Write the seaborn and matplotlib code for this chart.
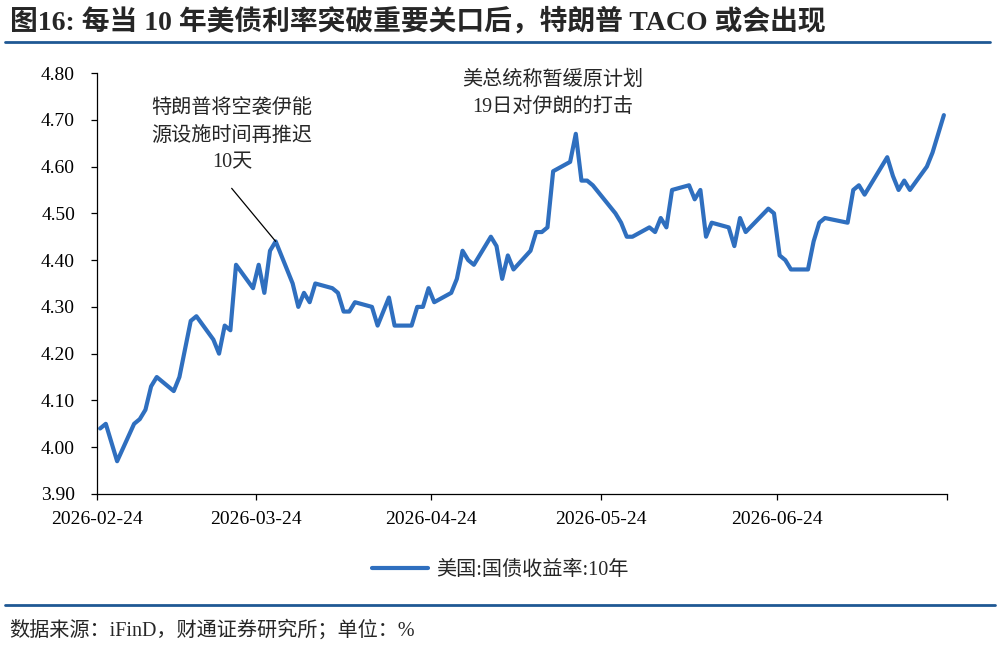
import pandas as pd
import seaborn as sns
import matplotlib.pyplot as plt
from matplotlib.lines import Line2D

# 10y US treasury yield, daily closes (%)
dates = [
    "2026-02-24", "2026-02-25", "2026-02-26", "2026-02-27",
    "2026-03-02", "2026-03-03", "2026-03-04", "2026-03-05", "2026-03-06",
    "2026-03-09", "2026-03-10", "2026-03-11", "2026-03-12", "2026-03-13",
    "2026-03-16", "2026-03-17", "2026-03-18", "2026-03-19", "2026-03-20",
    "2026-03-23", "2026-03-24", "2026-03-25", "2026-03-26", "2026-03-27",
    "2026-03-30", "2026-03-31", "2026-04-01", "2026-04-02", "2026-04-03",
    "2026-04-06", "2026-04-07", "2026-04-08", "2026-04-09", "2026-04-10",
    "2026-04-13", "2026-04-14", "2026-04-15", "2026-04-16", "2026-04-17",
    "2026-04-20", "2026-04-21", "2026-04-22", "2026-04-23", "2026-04-24",
    "2026-04-27", "2026-04-28", "2026-04-29", "2026-04-30", "2026-05-01",
    "2026-05-04", "2026-05-05", "2026-05-06", "2026-05-07", "2026-05-08",
    "2026-05-11", "2026-05-12", "2026-05-13", "2026-05-14", "2026-05-15",
    "2026-05-18", "2026-05-19", "2026-05-20", "2026-05-21", "2026-05-22",
    "2026-05-26", "2026-05-27", "2026-05-28", "2026-05-29",
    "2026-06-01", "2026-06-02", "2026-06-03", "2026-06-04", "2026-06-05",
    "2026-06-08", "2026-06-09", "2026-06-10", "2026-06-11", "2026-06-12",
    "2026-06-15", "2026-06-16", "2026-06-17", "2026-06-18",
    "2026-06-22", "2026-06-23", "2026-06-24", "2026-06-25", "2026-06-26",
    "2026-06-29", "2026-06-30", "2026-07-01", "2026-07-02",
    "2026-07-06", "2026-07-07", "2026-07-08", "2026-07-09", "2026-07-10",
    "2026-07-13", "2026-07-14", "2026-07-15", "2026-07-16", "2026-07-17",
    "2026-07-20", "2026-07-21", "2026-07-22", "2026-07-23",
]
yields = [
    4.04, 4.05, 4.01, 3.97,
    4.05, 4.06, 4.08, 4.13, 4.15,
    4.12, 4.15, 4.21, 4.27, 4.28,
    4.23, 4.20, 4.26, 4.25, 4.39,
    4.34, 4.39, 4.33, 4.42, 4.44,
    4.35, 4.30, 4.33, 4.31, 4.35,
    4.34, 4.33, 4.29, 4.29, 4.31,
    4.30, 4.26, 4.29, 4.32, 4.26,
    4.26, 4.30, 4.30, 4.34, 4.31,
    4.33, 4.36, 4.42, 4.40, 4.39,
    4.45, 4.43, 4.36, 4.41, 4.38,
    4.42, 4.46, 4.46, 4.47, 4.59,
    4.61, 4.67, 4.57, 4.57, 4.56,
    4.50, 4.48, 4.45, 4.45,
    4.47, 4.46, 4.49, 4.47, 4.55,
    4.56, 4.53, 4.55, 4.45, 4.48,
    4.47, 4.43, 4.49, 4.46,
    4.51, 4.50, 4.41, 4.40, 4.38,
    4.38, 4.44, 4.48, 4.49,
    4.48, 4.55, 4.56, 4.54, 4.56,
    4.62, 4.58, 4.55, 4.57, 4.55,
    4.60, 4.63, 4.67, 4.71,
]
series_name = "美国:国债收益率:10年"

y_ticks = [3.90, 4.00, 4.10, 4.20, 4.30, 4.40, 4.50, 4.60, 4.70, 4.80]
x_ticks = ["2026-02-24", "2026-03-24", "2026-04-24", "2026-05-24", "2026-06-24", "2026-07-24"]
x_labels = ["2026-02-24", "2026-03-24", "2026-04-24", "2026-05-24", "2026-06-24", ""]

title = "图16: 每当 10 年美债利率突破重要关口后，特朗普 TACO 或会出现"
source = "数据来源：iFinD，财通证券研究所；单位：%"
note_left = "特朗普将空袭伊能\n源设施时间再推迟\n10天"
note_left_date = "2026-03-27"
note_right = "美总统称暂缓原计划\n19日对伊朗的打击"

line_color = "#2f6fbf"
rule_color = "#1f5894"

sns.set_theme(style="ticks")
# serif for latin/digits, fall back to Noto CJK for the chinese glyphs
plt.rcParams["font.family"] = ["Liberation Serif", "Noto Sans CJK SC"]

# excel date axis puts each day's point in the middle of its day slot
df = pd.DataFrame({"date": pd.to_datetime(dates) + pd.Timedelta(hours=12), "yield": yields})

fig = plt.figure(figsize=(10, 6.48), dpi=100)
ax = fig.add_axes([0.0973, 0.2377, 0.8494, 0.6496])

sns.lineplot(data=df, x="date", y="yield", ax=ax, color=line_color,
             linewidth=3.0, legend=False)

ax.set_xlim(pd.Timestamp(x_ticks[0]), pd.Timestamp(x_ticks[-1]))
ax.set_ylim(y_ticks[0], y_ticks[-1])
ax.set_xticks(pd.to_datetime(x_ticks))
ax.set_xticklabels(x_labels)
ax.set_yticks(y_ticks)
ax.set_yticklabels([f"{v:.2f}" for v in y_ticks])
ax.set_xlabel("")
ax.set_ylabel("")
ax.tick_params(axis="both", direction="out", length=4, width=0.9, colors="black",
               labelsize=14)
ax.tick_params(axis="y", pad=12)
ax.tick_params(axis="x", pad=8)
sns.despine(ax=ax)
for side in ["left", "bottom"]:
    ax.spines[side].set_color("black")
    ax.spines[side].set_linewidth(0.9)

# annotations
ax.text(0.1586, 0.850, note_left, transform=ax.transAxes, ha="center", va="center",
        fontsize=14.5, linespacing=1.55)
peak = df.loc[df["date"].dt.strftime("%Y-%m-%d") == note_left_date]
ax.annotate("", xy=(peak["date"].iloc[0], peak["yield"].iloc[0]),
            xytext=(0.1582, 0.7261), textcoords="axes fraction",
            arrowprops=dict(arrowstyle="-", color="black", lw=0.9, shrinkA=0, shrinkB=0))
ax.text(0.5365, 0.951, note_right, transform=ax.transAxes, ha="center", va="center",
        fontsize=14.5, linespacing=1.55)

# legend below the axes
handle = Line2D([], [], color=line_color, linewidth=3.0)
fig.legend([handle], [series_name], loc="center", bbox_to_anchor=(0.5, 1 - 570 / 648),
           frameon=False, fontsize=14.5, handlelength=2.8, handletextpad=0.4)

# title, rules and source
fig.text(0.010, 1 - 22 / 648, title, ha="left", va="center", fontsize=20, fontweight="bold")
fig.add_artist(Line2D([0.005, 0.99], [1 - 42 / 648] * 2, color=rule_color, linewidth=2))
fig.add_artist(Line2D([0.005, 0.995], [1 - 605 / 648] * 2, color=rule_color, linewidth=2))
fig.text(0.009, 1 - 630 / 648, source, ha="left", va="center", fontsize=14.5)

fig.savefig("out.png", dpi=100)
